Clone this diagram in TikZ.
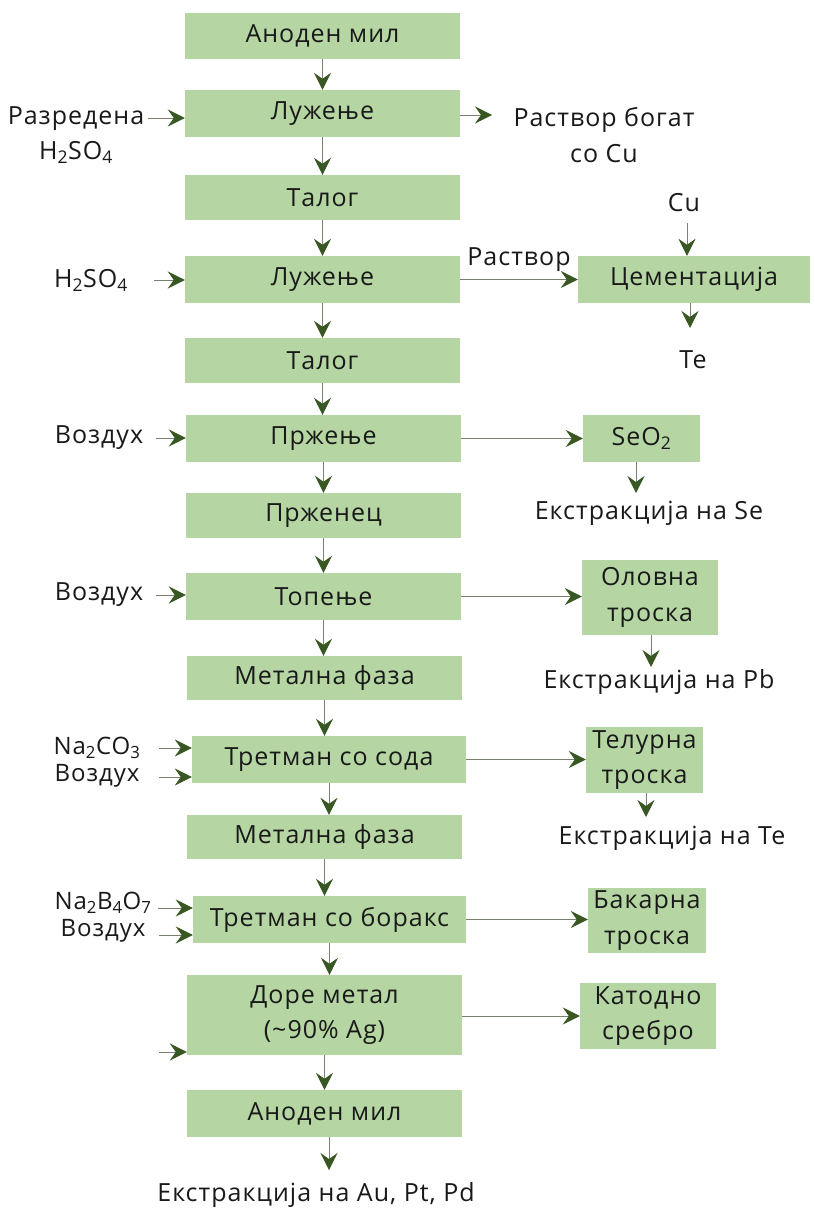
\documentclass[tikz,border=0pt]{standalone}
\usepackage{fontspec}
\setmainfont[LetterSpace=4]{Open Sans}
\usetikzlibrary{arrows.meta,calc}
\definecolor{boxgreen}{RGB}{181,214,163}
\definecolor{headgreen}{RGB}{56,87,35}
\definecolor{shaftc}{RGB}{120,128,112}
\definecolor{txt}{RGB}{25,25,25}
\begin{document}
\begin{tikzpicture}[x=1pt,y=-1pt,
  font=\fontsize{25}{35.5}\selectfont, text=txt,
  box/.style={fill=boxgreen, inner sep=0pt, align=center},
  lbl/.style={inner sep=0pt, align=center},
  tight/.style={lbl, font=\fontsize{24}{26.5}\selectfont},
  flow/.style={draw=shaftc, line width=1pt, -{Stealth[length=17pt,width=17pt,inset=6pt,color=headgreen]}}]
\useasboundingbox[fill=white] (0,0) rectangle (814,1210);
% main column
\node[box, minimum width=275pt, minimum height=46pt] (b1) at (322.5,36) {Аноден мил};
\node[box, minimum width=275pt, minimum height=47pt] (b2) at (322.5,113.5) {Лужење};
\node[box, minimum width=275pt, minimum height=45pt] (b3) at (322.5,197.5) {Талог};
\node[box, minimum width=275pt, minimum height=47pt] (b4) at (322.5,279.5) {Лужење};
\node[box, minimum width=275pt, minimum height=45pt] (b5) at (322.5,360.5) {Талог};
\node[box, minimum width=275pt, minimum height=47pt] (b6) at (323.5,438.5) {Пржење};
\node[box, minimum width=275pt, minimum height=45pt] (b7) at (323.5,515.5) {Прженец};
\node[box, minimum width=275pt, minimum height=47pt] (b8) at (323.5,596.5) {Топење};
\node[box, minimum width=275pt, minimum height=44pt] (b9) at (324.5,678) {Метална фаза};
\node[box, minimum width=274pt, minimum height=47pt] (b10) at (329,759.5) {Третман со сода};
\node[box, minimum width=275pt, minimum height=44pt] (b11) at (324.5,837) {Метална фаза};
\node[box, minimum width=273pt, minimum height=47pt] (b12) at (329.5,919.5) {Третман со боракс};
\node[box, minimum width=275pt, minimum height=80pt] (b13) at (324.5,1015) {Доре метал\\(\textasciitilde90\% Ag)};
\node[box, minimum width=275pt, minimum height=47pt] (b14) at (324.5,1113.5) {Аноден мил};
\node[lbl] (out) at (316,1195) {Екстракција на Au, Pt, Pd};
% right column
\node[box, minimum width=232pt, minimum height=47pt] (cem) at (694,279.5) {Цементација};
\node[box, minimum width=117pt, minimum height=47pt] (seo) at (641.5,438.5) {SeO\textsubscript{2}};
\node[box, minimum width=136pt, minimum height=75pt] (pbs) at (650,597.5) {Оловна\\троска};
\node[box, minimum width=117pt, minimum height=66pt] (tes) at (644.5,760) {Телурна\\троска};
\node[box, minimum width=118pt, minimum height=65pt] (cus) at (647,920.5) {Бакарна\\троска};
\node[box, minimum width=136pt, minimum height=66pt] (ags) at (648,1016) {Катодно\\сребро};
% right labels
\node[lbl] (rich) at (604,135) {Раствор богат\\со Cu};
\node[lbl] (rastvor) at (519,260) {Раствор};
\node[lbl] (cu) at (684,203) {Cu};
\node[lbl] (te) at (693,360) {Te};
\node[lbl] (exse) at (649,513) {Екстракција на Se};
\node[lbl] (expb) at (659,682) {Екстракција на Pb};
\node[lbl] (exte) at (672,838) {Екстракција на Te};
% left labels
\node[lbl] (l1) at (76,135) {Разредена\\H\textsubscript{2}SO\textsubscript{4}};
\node[lbl] (l2) at (91,280) {H\textsubscript{2}SO\textsubscript{4}};
\node[lbl] (l3) at (99,438) {Воздух};
\node[lbl] (l4) at (99,595) {Воздух};
\node[tight] (l5) at (97,762) {Na\textsubscript{2}CO\textsubscript{3}\\Воздух};
\node[tight] (l7) at (103,917) {Na\textsubscript{2}B\textsubscript{4}O\textsubscript{7}\\Воздух};
% input arrow starts
\coordinate (i1) at (148,118);
\coordinate (i2) at (154,280);
\coordinate (i3) at (156,438);
\coordinate (i4) at (156,595);
\coordinate (i5) at (159,748);
\coordinate (i6) at (159,777);
\coordinate (i7) at (158,908);
\coordinate (i8) at (159,935);
\coordinate (i9) at (159,1052);
\draw[flow] (i1) -- (i1 -| b2.west);
\draw[flow] (i2) -- (i2 -| b4.west);
\draw[flow] (i3) -- (i3 -| b6.west);
\draw[flow] (i4) -- (i4 -| b8.west);
\draw[flow] (i5) -- (i5 -| b10.west);
\draw[flow] (i6) -- (i6 -| b10.west);
\draw[flow] (i7) -- (i7 -| b12.west);
\draw[flow] (i8) -- (i8 -| b12.west);
\draw[flow] (i9) -- (i9 -| b13.west);
% main vertical arrows
\foreach \a/\b in {b1/b2,b2/b3,b3/b4,b4/b5,b5/b6,b6/b7,b7/b8,b8/b9,b9/b10,b10/b11,b11/b12,b12/b13,b13/b14}
  \draw[flow] (\a.south) -- (\a.south |- \b.north);
\coordinate (oend) at (329,1170);
\draw[flow] (b14.south -| oend) -- (oend);
% right side arrows
\coordinate (r1) at (492,115);
\draw[flow] (b2.east |- r1) -- (r1);
\draw[flow] (b4.east) -- (b4.east -| cem.west);
\draw[flow] (b6.east) -- (b6.east -| seo.west);
\draw[flow] (b8.east) -- (b8.east -| pbs.west);
\draw[flow] (b10.east) -- (b10.east -| tes.west);
\draw[flow] (b12.east) -- (b12.east -| cus.west);
\draw[flow] (b13.east |- ags.west) -- (ags.west);
% right down arrows
\coordinate (cux) at (687,223);
\draw[flow] (cux) -- (cux |- cem.north);
\coordinate (tex) at (690,328);
\draw[flow] (cem.south -| tex) -- (tex);
\coordinate (sex) at (636,493);
\draw[flow] (seo.south -| sex) -- (sex);
\coordinate (pbx) at (651,667);
\draw[flow] (pbs.south -| pbx) -- (pbx);
\coordinate (tsx) at (646,817);
\draw[flow] (tes.south -| tsx) -- (tsx);
\end{tikzpicture}
\end{document}
